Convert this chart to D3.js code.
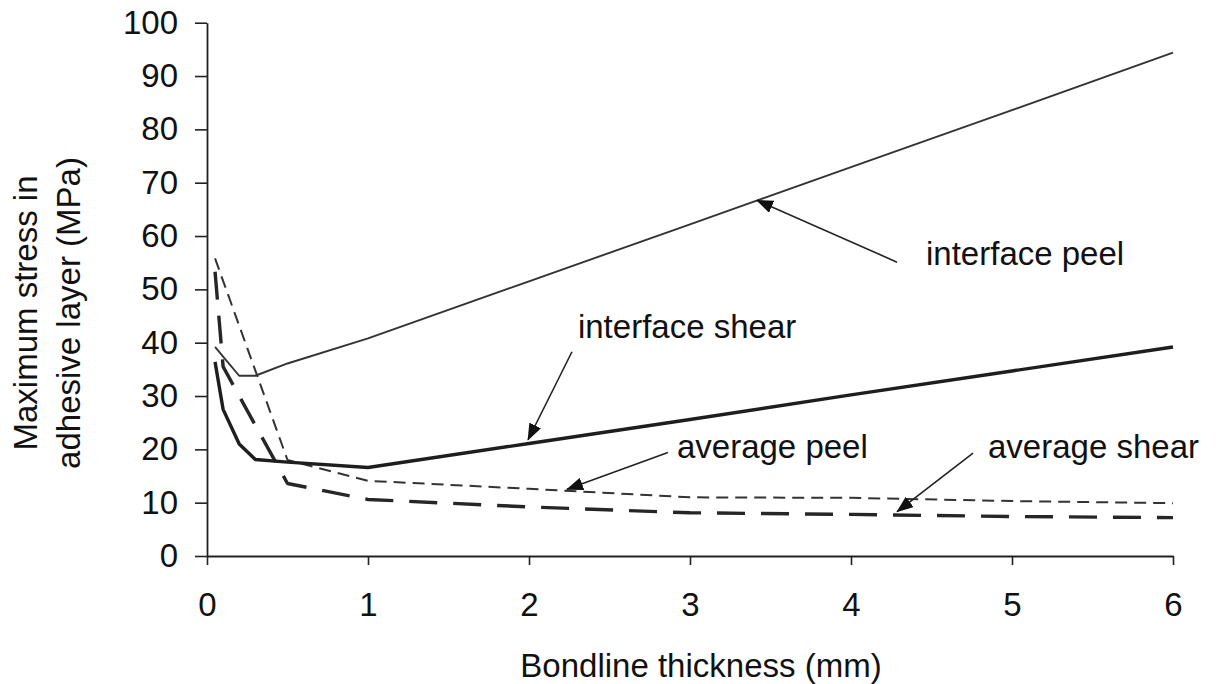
<!DOCTYPE html>
<html>
<head>
<meta charset="utf-8">
<script src="https://cdn.jsdelivr.net/npm/d3@7"></script>
<style>
  html, body { margin: 0; padding: 0; background: #fff; }
  svg { display: block; }
  text { font-family: "Liberation Sans", Arial, sans-serif; fill: #111; }
</style>
</head>
<body>
<svg id="chart" width="1218" height="684"></svg>
<script>
// Bondline thickness (mm)
const thickness = [0.05, 0.1, 0.2, 0.3, 0.5, 1, 2, 3, 4, 5, 6];

// Maximum stress in the adhesive layer (MPa)
const interfacePeel  = [39.2, 37.4, 33.8, 33.8, 36.1, 40.8, 51.5, 62.2, 72.9, 83.6, 94.4];
const interfaceShear = [36.4, 27.5, 21.0, 18.1, 17.6, 16.6, 21.1, 25.6, 30.2, 34.7, 39.2];
const averagePeel    = [55.8, 51.6, 43.2, 34.8, 18.0, 14.1, 12.6, 11.0, 10.9, 10.3, 9.9];
const averageShear   = [53.3, 35.5, 30.0, 24.5, 13.6, 10.6, 9.2, 8.1, 7.8, 7.4, 7.2];

const xTicks = [0, 1, 2, 3, 4, 5, 6];
const yTicks = [0, 10, 20, 30, 40, 50, 60, 70, 80, 90, 100];

// Callout labels: text anchor, arrow tail and arrow tip, in data units
const calloutLabels = ["interface peel", "interface shear", "average peel", "average shear"];
const calloutText   = [[4.466, 54.6], [2.304, 40.9], [2.919, 18.4], [4.851, 18.4]];
const calloutTail   = [[4.286, 55.1], [2.267, 38.3], [2.863, 19.4], [4.758, 19.3]];
const calloutTip    = [[3.416, 66.7], [1.994, 21.8], [2.236, 12.5], [4.286, 8.3]];

const svg = d3.select("#chart");

const x = d3.scaleLinear().domain([0, 6]).range([207, 1173]);
const y = d3.scaleLinear().domain([0, 100]).range([556, 22.7]);

// Axes
const yAxis = svg.append("g")
  .attr("transform", `translate(${x(0)},0)`)
  .call(d3.axisLeft(y).tickValues(yTicks).tickFormat(d3.format("d"))
    .tickSize(12).tickSizeOuter(0).tickPadding(17));

const xAxis = svg.append("g")
  .attr("transform", `translate(0,${y(0)})`)
  .call(d3.axisBottom(x).tickValues(xTicks).tickFormat(d3.format("d"))
    .tickSize(9).tickSizeOuter(0).tickPadding(28));

[yAxis, xAxis].forEach(g => {
  g.selectAll("path.domain").attr("stroke", "#222").attr("stroke-width", 1.8);
  g.selectAll(".tick line").attr("stroke", "#222").attr("stroke-width", 1.6);
  g.selectAll(".tick text")
    .attr("fill", "#111")
    .style("font-family", '"Liberation Sans", Arial, sans-serif')
    .style("font-size", "33px");
});

// Series
const series = [
  { values: averagePeel,    stroke: "#333", width: 2.0, dash: "12,7" },
  { values: averageShear,   stroke: "#262626", width: 3.4, dash: "28,16" },
  { values: interfacePeel,  stroke: "#333", width: 1.9, dash: null },
  { values: interfaceShear, stroke: "#1e1e1e", width: 3.4, dash: null }
];

const line = d3.line()
  .x(d => x(d[0]))
  .y(d => y(d[1]));

series.forEach(s => {
  svg.append("path")
    .datum(thickness.map((t, i) => [t, s.values[i]]))
    .attr("fill", "none")
    .attr("stroke", s.stroke)
    .attr("stroke-width", s.width)
    .attr("stroke-linejoin", "round")
    .attr("stroke-dasharray", s.dash)
    .attr("d", line);
});

// Arrowhead marker
svg.append("defs").append("marker")
  .attr("id", "arrowhead")
  .attr("markerUnits", "userSpaceOnUse")
  .attr("markerWidth", 17)
  .attr("markerHeight", 13)
  .attr("refX", 16)
  .attr("refY", 6.5)
  .attr("orient", "auto")
  .append("path")
  .attr("d", "M0,0 L17,6.5 L0,13 Z")
  .attr("fill", "#111");

// Callouts
calloutLabels.forEach((label, i) => {
  svg.append("line")
    .attr("x1", x(calloutTail[i][0]))
    .attr("y1", y(calloutTail[i][1]))
    .attr("x2", x(calloutTip[i][0]))
    .attr("y2", y(calloutTip[i][1]))
    .attr("stroke", "#222")
    .attr("stroke-width", 1.6)
    .attr("marker-end", "url(#arrowhead)");

  svg.append("text")
    .attr("x", x(calloutText[i][0]))
    .attr("y", y(calloutText[i][1]))
    .style("font-size", "33px")
    .text(label);
});

// Axis titles
svg.append("text")
  .attr("x", 701)
  .attr("y", 677)
  .attr("text-anchor", "middle")
  .style("font-size", "33px")
  .text("Bondline thickness (mm)");

const yTitle = svg.append("text")
  .attr("transform", "translate(37,313) rotate(-90)")
  .attr("text-anchor", "middle")
  .style("font-size", "33px");
yTitle.append("tspan").attr("x", 0).attr("dy", 0).text("Maximum stress in");
yTitle.append("tspan").attr("x", 0).attr("dy", 43).text("adhesive layer (MPa)");
</script>
</body>
</html>
